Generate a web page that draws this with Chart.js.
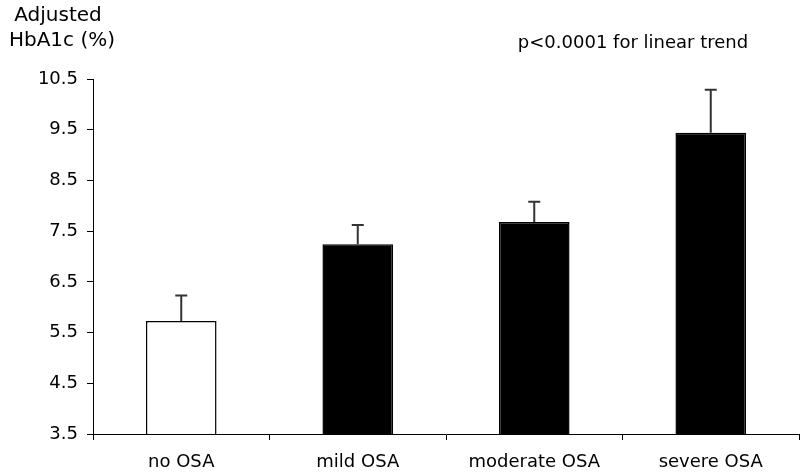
<!DOCTYPE html>
<html>
<head>
<meta charset="utf-8">
<script src="https://cdn.jsdelivr.net/npm/chart.js@4"></script>
<style>
    html, body { margin: 0; padding: 0; background: #fff; }
    #wrap { width: 800px; height: 474px; }
</style>
</head>
<body>
<div id="wrap"><canvas id="hba1cChart" width="800" height="474"></canvas></div>
<script>
const groups = ['no OSA', 'mild OSA', 'moderate OSA', 'severe OSA'];
const hba1c = [5.73, 7.24, 7.68, 9.44];
const errorTop = [6.23, 7.62, 8.08, 10.29];
const barColors = ['#ffffff', '#000000', '#000000', '#000000'];
const yTicks = [3.5, 4.5, 5.5, 6.5, 7.5, 8.5, 9.5, 10.5];

const FONT = 'DejaVu Sans, Verdana, sans-serif';

// error bars (upper only) + the free text labels
const extras = {
    id: 'extras',
    afterDatasetsDraw(chart) {
        const ctx = chart.ctx;
        const meta = chart.getDatasetMeta(0);
        const y = chart.scales.y;
        ctx.save();
        ctx.strokeStyle = '#333';
        ctx.lineWidth = 2;
        meta.data.forEach((bar, i) => {
            const top = y.getPixelForValue(errorTop[i]);
            ctx.beginPath();
            ctx.moveTo(bar.x, bar.y);
            ctx.lineTo(bar.x, top);
            ctx.moveTo(bar.x - 6, top);
            ctx.lineTo(bar.x + 6, top);
            ctx.stroke();
        });
        ctx.restore();
    },
    afterDraw(chart) {
        const ctx = chart.ctx;
        ctx.save();
        ctx.fillStyle = '#000';
        ctx.textBaseline = 'middle';
        ctx.textAlign = 'center';
        ctx.font = '20px ' + FONT;
        ctx.fillText('Adjusted', 58, 16);
        ctx.fillText('HbA1c (%)', 62, 41);
        ctx.font = '18px ' + FONT;
        ctx.fillText('p<0.0001 for linear trend', 633, 43);
        ctx.restore();
    }
};

const ctx = document.getElementById('hba1cChart').getContext('2d');
const hba1cChart = new Chart(ctx, { // eslint-disable-line
    type: 'bar',
    data: {
        labels: groups,
        datasets: [{
            data: hba1c,
            backgroundColor: barColors,
            borderColor: '#000',
            borderWidth: 1.5,
            barPercentage: 0.4,
            categoryPercentage: 1
        }]
    },
    options: {
        responsive: false,
        animation: false,
        layout: { padding: { top: 79, right: 1, left: 0, bottom: 0 } },
        plugins: {
            legend: { display: false },
            tooltip: { enabled: false }
        },
        scales: {
            x: {
                afterFit(scale) { scale.height = 40; },
                grid: {
                    offset: true,
                    drawOnChartArea: false,
                    tickLength: 6,
                    tickColor: '#000'
                },
                border: { color: '#000', width: 1 },
                ticks: {
                    color: '#000',
                    font: { family: FONT, size: 18 },
                    padding: 12,
                    maxRotation: 0
                }
            },
            y: {
                min: 3.5,
                max: 10.5,
                afterFit(scale) { scale.width = 93; },
                afterBuildTicks(scale) {
                    scale.ticks = yTicks.map(v => ({ value: v }));
                },
                grid: {
                    drawOnChartArea: false,
                    tickLength: 6,
                    tickColor: '#000'
                },
                border: { color: '#000', width: 1 },
                ticks: {
                    color: '#000',
                    font: { family: FONT, size: 18 },
                    padding: 9,
                    callback: v => v.toFixed(1)
                }
            }
        }
    },
    plugins: [extras]
});
</script>
</body>
</html>
